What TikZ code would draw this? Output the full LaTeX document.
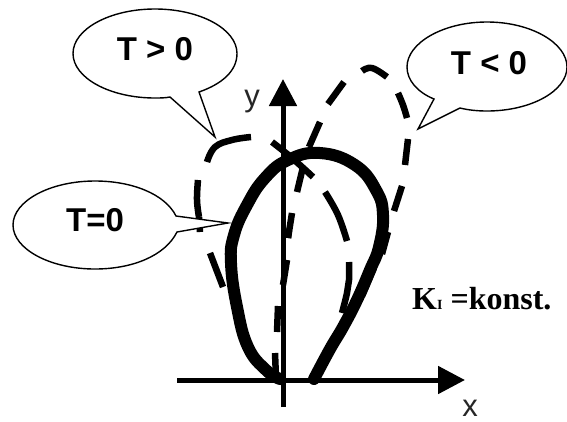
\documentclass[tikz,border=0pt]{standalone}
\usepackage{fontspec}
\setmainfont{Liberation Sans}
\newfontfamily\timesfont{Liberation Serif}
\usetikzlibrary{arrows.meta}
\tikzset{
 axisline/.style={line width=5pt,-{Triangle[length=27pt,width=27pt]}},
 solidcurve/.style={line width=12pt,line cap=round,line join=round},
 dashcurve/.style={line width=6.5pt},
 callout/.style={draw=black,fill=white,line width=1.4pt,line join=miter},
 calltext/.style={font=\fontsize{33}{36}\bfseries\selectfont,inner sep=0pt},
 axislabel/.style={font=\fontsize{31}{34}\selectfont,inner sep=0pt,text=black!85},
}
\begin{document}
\begin{tikzpicture}[x=1pt,y=-1pt]
\useasboundingbox (0,0) rectangle (567,421);
% T>0 dashes
\foreach \p in {
 {(207,162) (215,147) (232,140) (251,137)},
 {(272,142) (292,158) (313,177)},
 {(325,192) (338,215) (347,241)},
 {(349,262) (349,280) (347,293) (342,313)},
 {(198,180) (197,200) (199,217)},
 {(199,217) (200,232)},
 {(210,253) (223,287)}}
 {\draw[dashcurve] plot[smooth,tension=0.7] coordinates {\p};}
% T<0 dashes
\foreach \p in {
 {(275,353) (276,378)},
 {(278,306) (277,332)},
 {(287,260) (283,285)},
 {(289,230) (288,238)},
 {(292,213) (288,238)},
 {(303,167) (297,192)},
 {(320,122) (309,147)},
 {(344,82) (328,104)},
 {(362,71) (372,68) (387,77)},
 {(398,93) (403,105) (407,118)},
 {(408,139) (405,165)},
 {(402,186) (394,211)},
 {(388,232) (382,254)},
 {(374,268) (362,296)}}
 {\draw[dashcurve] plot[smooth,tension=0.7] coordinates {\p};}
% T=0 solid
\draw[solidcurve] plot[smooth,tension=0.75] coordinates {
 (280,379) (266,370) (248,347) (237,307) (231,263) (234,235) (247,205) (265,178) (288,160)
 (320,153) (355,165) (376,190) (383,215) (379,247) (370,270) (357,300) (343,327) (330,349) (314,379)};
% axes
\coordinate (xs) at (177,380);
\coordinate (xe) at (465,380);
\coordinate (ys) at (283,407);
\coordinate (ye) at (283,79);
\draw[axisline] (xs) -- (xe);
\draw[axisline] (ys) -- (ye);
\node[axislabel] (ylab) at (252,102) {y};
\node[axislabel] (xlab) at (470,408) {x};
% callouts
\draw[callout] (170,97) -- (215,137) -- (199,92)
  .. controls (222,84) and (237,71) .. (237,53.5)
  .. controls (237,29) and (200,9) .. (155,9)
  .. controls (110,9) and (73,29) .. (73,53.5)
  .. controls (73,78) and (110,98) .. (155,98)
  .. controls (160,98) and (165,98) .. (170,97) -- cycle;
\draw[callout] (460,108) -- (418,129) -- (434,99)
  .. controls (417,92) and (407,80) .. (407,67)
  .. controls (407,43) and (443,22) .. (487,22)
  .. controls (531,22) and (567,43) .. (567,67)
  .. controls (567,91) and (531,111) .. (487,111)
  .. controls (477,111) and (468,110) .. (460,108) -- cycle;
\draw[callout] (176,216) -- (228,223) -- (177,232)
  .. controls (165,256) and (132,269) .. (95,269)
  .. controls (50,269) and (13,249) .. (13,225)
  .. controls (13,201) and (50,181) .. (95,181)
  .. controls (132,181) and (165,194) .. (176,216) -- cycle;
\node[calltext] (tpos) at (155,49) {T > 0};
\node[calltext] (tneg) at (489,63) {T < 0};
\node[calltext] (tzero) at (95,220) {T=0};
\node[inner sep=0pt,anchor=base west,font=\timesfont\fontsize{32}{34}\bfseries\selectfont] (k) at (412,309) {K{\fontsize{14}{15}\selectfont I} =konst.};
\end{tikzpicture}
\end{document}
